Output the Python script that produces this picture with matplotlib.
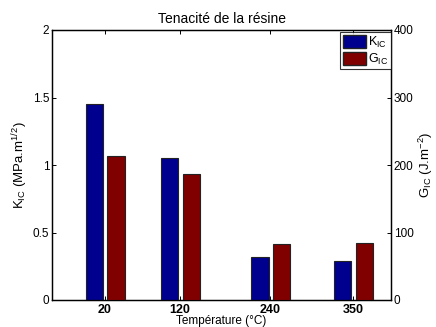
import matplotlib
matplotlib.use("Agg")
import matplotlib.pyplot as plt
from matplotlib.patches import Patch
import numpy as np

plt.rcParams['font.family'] = ['Liberation Sans', 'DejaVu Sans']
plt.rcParams['mathtext.fontset'] = 'custom'
plt.rcParams['mathtext.rm'] = 'Liberation Sans'
plt.rcParams['mathtext.it'] = 'Liberation Sans'

temperatures = [20, 120, 240, 350]
temp_labels = ['20', '120', '240', '350']
k_ic = [1.45, 1.05, 0.32, 0.29]
g_ic = [213, 186, 83, 85]

fig = plt.figure(figsize=(4.36, 3.27), dpi=100)
ax = fig.add_axes([52/436, 1-300/327, (391-52)/436, 270/327])
ax2 = ax.twinx()

x = np.array(temperatures, dtype=float)
w = 23
blue = '#00008F'
red = '#800000'
ax.bar(x - 14, k_ic, width=w, color=blue, edgecolor='#222222', linewidth=0.8, zorder=3)
ax2.bar(x + 15, g_ic, width=w, color=red, edgecolor='#222222', linewidth=0.8, zorder=3)

ax.set_xlim(-50, 400)
ax.set_ylim(0, 2)
ax2.set_ylim(0, 400)
ax.set_xticks(temperatures)
ax.set_xticklabels(temp_labels, fontweight='bold')
ax.set_yticks([0, 0.5, 1, 1.5, 2])
ax.set_yticklabels(['0', '0.5', '1', '1.5', '2'])
ax2.set_yticks([0, 100, 200, 300, 400])

ax.tick_params(axis='both', direction='in', length=3, width=0.7, labelsize=8.5, pad=2,
               top=True)
ax.tick_params(axis='x', pad=3, labelsize=9)
ax2.tick_params(axis='y', direction='in', length=3, width=0.7, labelsize=8.5, pad=2)
for a in (ax, ax2):
    for s in a.spines.values():
        s.set_linewidth(0.9)

ax.set_title('Tenacité de la résine', fontsize=10, pad=5)
ax.set_xlabel('Température (°C)', fontsize=8.5, labelpad=-1)
ax.set_ylabel(r'K$_{\mathrm{IC}}$ (MPa.m$^{\mathrm{1/2}}$)', fontsize=9.5, labelpad=2)
ax2.set_ylabel(r'G$_{\mathrm{IC}}$ (J.m$^{\mathrm{-2}}$)', fontsize=9.5, labelpad=2)

handles = [Patch(facecolor=blue, edgecolor='#222222'), Patch(facecolor=red, edgecolor='#222222')]
leg = ax2.legend(handles, [r'K$_{\mathrm{IC}}$', r'G$_{\mathrm{IC}}$'], loc='upper right',
                 bbox_to_anchor=(1.0, 1 - 2/270),
                 fontsize=9, frameon=True, fancybox=False, edgecolor='black',
                 handlelength=1.9, handleheight=1.2, handletextpad=0.15,
                 borderpad=0.2, labelspacing=0.15, borderaxespad=0.0)
leg.get_frame().set_linewidth(0.8)

fig.savefig('out.png', dpi=100)
